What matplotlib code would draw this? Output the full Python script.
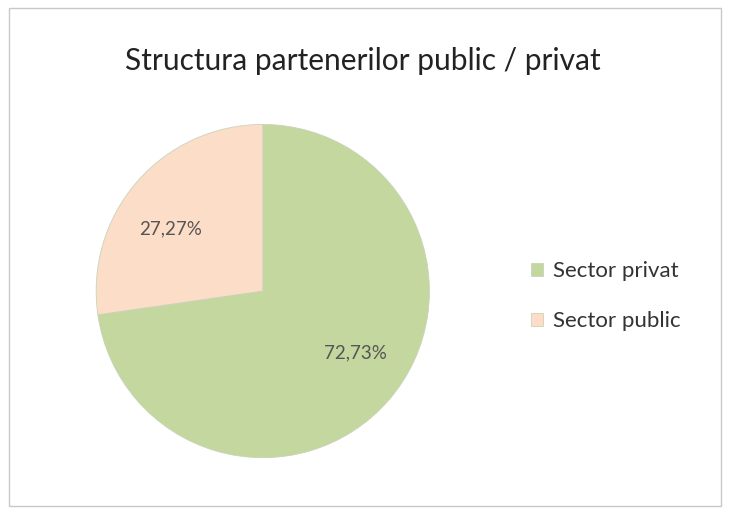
import matplotlib
matplotlib.use("Agg")
import matplotlib.pyplot as plt
import numpy as np
from matplotlib.patches import Rectangle

plt.rcParams['font.family'] = ['Lato', 'DejaVu Sans']

# date
categorii = ['Sector privat', 'Sector public']
procente = [72.73, 27.27]
culori = ['#C4D79F', '#FCDDC8']
titlu = 'Structura partenerilor public / privat'

fig = plt.figure(figsize=(7.31, 5.17), dpi=100)
fig.patch.set_facecolor('white')

# chenarul graficului
fig.patches.append(Rectangle((0.012, 0.022), 0.975, 0.962, transform=fig.transFigure,
                             fill=False, edgecolor='#C8C8C8', linewidth=1.0))

fig.text(0.496, 0.882, titlu, ha='center', va='center', fontsize=21.5, color='#222222')

ax = fig.add_axes([0.1270, 0.108, 0.465, 0.658])
wedges, texts, autotexts = ax.pie(procente, colors=culori, startangle=90, counterclock=False,
                                  autopct=lambda p: ('%.2f%%' % p).replace('.', ','),
                                  pctdistance=0.67,
                                  wedgeprops=dict(edgecolor='#C9D3BA', linewidth=0.6),
                                  textprops=dict(fontsize=13.5, color='#555555'))
# etichetele putin rotite fata de mijlocul feliei, ca in Excel
for w, t in zip(wedges, autotexts):
    a = np.deg2rad((w.theta1 + w.theta2) / 2 + 7)
    t.set_position((0.67 * np.cos(a), 0.67 * np.sin(a)))

ax.set_aspect('equal')
ax.set_xlim(-1.02, 1.02)
ax.set_ylim(-1.02, 1.02)

ax.legend(wedges, categorii, loc='center left', bbox_to_anchor=(1.23, 0.485),
          frameon=False, fontsize=16, handlelength=0.55, handleheight=0.55,
          handletextpad=0.45, labelspacing=1.35, labelcolor='#333333')

fig.savefig('out.png', dpi=100, facecolor='white')
